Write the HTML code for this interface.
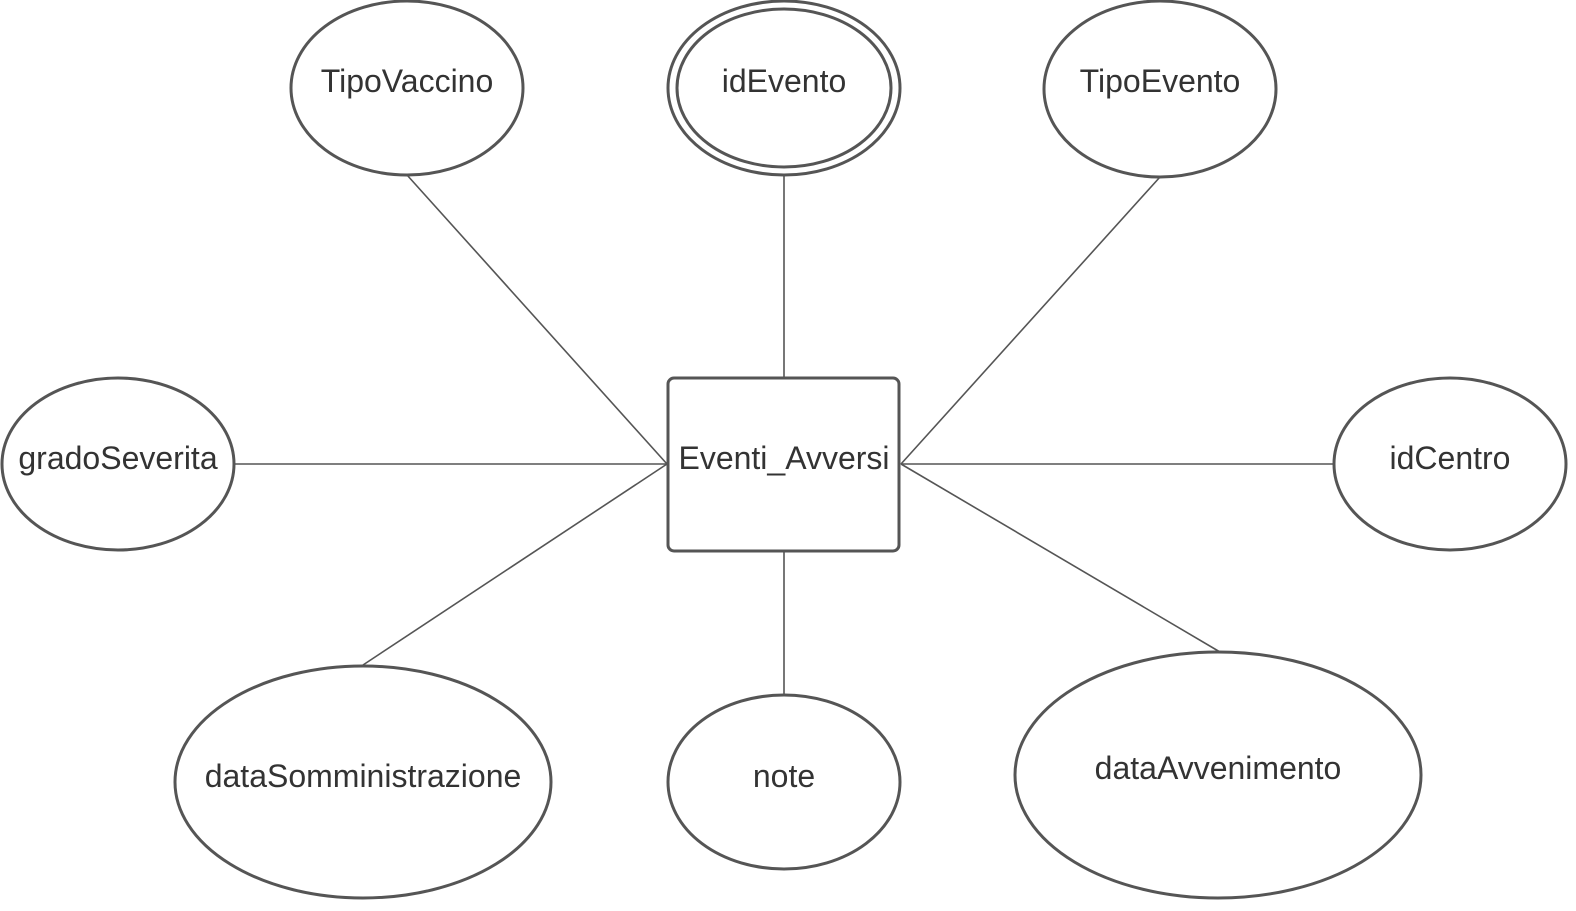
<!DOCTYPE html>
<html><head><meta charset="utf-8"><style>html,body{margin:0;padding:0;background:#fff}</style></head>
<body>
<svg width="1576" height="906" viewBox="0 0 1576 906" xmlns="http://www.w3.org/2000/svg" font-family="Liberation Sans, sans-serif" font-size="32" fill="#333">
<g stroke="#555" stroke-width="1.6" fill="none">
<line x1="407" y1="175" x2="667" y2="464"/>
<line x1="784" y1="176" x2="784" y2="377"/>
<line x1="1160" y1="177" x2="901" y2="464"/>
<line x1="234" y1="464" x2="667" y2="464"/>
<line x1="901" y1="464" x2="1334" y2="464"/>
<line x1="363" y1="665" x2="667" y2="464"/>
<line x1="784" y1="552" x2="784" y2="696"/>
<line x1="901" y1="464" x2="1220" y2="652"/>
</g>
<g stroke="#555" stroke-width="3" fill="#fff">
<ellipse cx="407" cy="88" rx="116" ry="87"/>
<ellipse cx="784" cy="88" rx="116" ry="87"/>
<ellipse cx="784" cy="88" rx="107" ry="79"/>
<ellipse cx="1160" cy="89" rx="116" ry="88"/>
<ellipse cx="118" cy="464" rx="116" ry="86"/>
<ellipse cx="1450" cy="464" rx="116" ry="86"/>
<ellipse cx="363" cy="782" rx="188" ry="116"/>
<ellipse cx="784" cy="782" rx="116" ry="87"/>
<ellipse cx="1218" cy="775" rx="203" ry="123"/>
<rect x="668" y="378" width="231" height="173" rx="6"/>
</g>
<g text-anchor="middle" fill="#333">
<text x="407" y="92">TipoVaccino</text>
<text x="784" y="92">idEvento</text>
<text x="1160" y="92">TipoEvento</text>
<text x="118" y="469">gradoSeverita</text>
<text x="1450" y="469">idCentro</text>
<text x="784" y="469">Eventi_Avversi</text>
<text x="363" y="787">dataSomministrazione</text>
<text x="784" y="787">note</text>
<text x="1218" y="779">dataAvvenimento</text>
</g>
</svg>
</body></html>
